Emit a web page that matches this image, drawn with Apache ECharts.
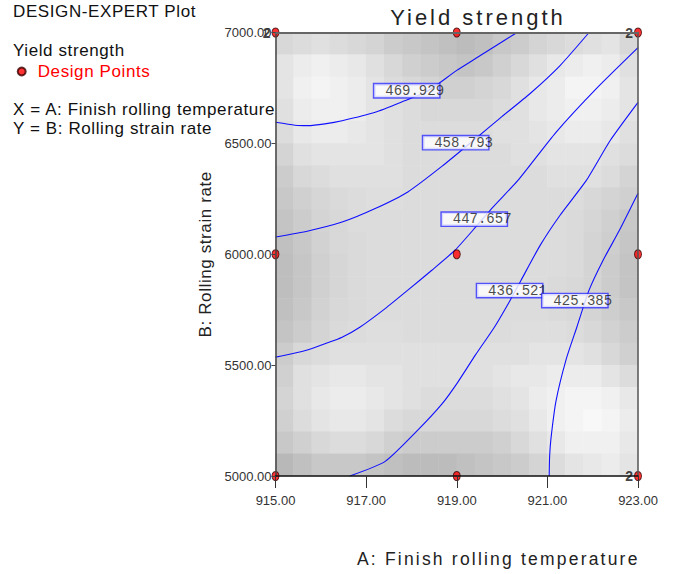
<!DOCTYPE html>
<html>
<head>
<meta charset="utf-8">
<script src="https://cdn.jsdelivr.net/npm/echarts@6/dist/echarts.min.js"></script>
<style>
  html, body { margin: 0; padding: 0; background: #ffffff; }
  #chart { width: 676px; height: 574px; }
  /* spread lettering for the plot title and the axis captions */
  #chart text[style*="22px"] { letter-spacing: 3px; }
  #chart text[style*="17px"] { letter-spacing: 0.6px; }
  #chart text[style*="17.5px"] { letter-spacing: 2.2px; }
</style>
</head>
<body>
<div id="chart"></div>
<script>
// Factor ranges (A: finish rolling temperature, B: rolling strain rate)
const aRange = [915, 923];
const aStep = 2;
const bRange = [5000, 7000];
const bStep = 500;

// Design points and replicate counts
const designA = [915, 919, 923, 915, 919, 923, 915, 919, 923];
const designB = [7000, 7000, 7000, 6000, 6000, 6000, 5000, 5000, 5000];
const designRuns = [2, 1, 2, 1, 1, 1, 1, 1, 2];

// Contour levels of yield strength
const contourLevels = [469.929, 458.793, 447.657, 436.521, 425.385];

// Contour traces, [A, B]
const contour469 = [[915.00, 6595], [915.43, 6582], [915.72, 6580], [916.09, 6588], [916.47, 6602], [917.20, 6640], [917.92, 6698], [918.30, 6730], [918.59, 6768], [919.00, 6829], [919.45, 6887], [919.89, 6944], [920.33, 7000]];
const contour458 = [[915.00, 6078], [915.72, 6105], [916.47, 6145], [917.20, 6206], [917.92, 6281], [918.67, 6396], [919.42, 6522], [919.95, 6613], [920.62, 6725], [921.28, 6851], [921.92, 7000]];
const contour447 = [[915.00, 5536], [915.36, 5551], [915.72, 5569], [916.09, 5596], [916.47, 5626], [916.86, 5671], [917.42, 5755], [917.92, 5838], [918.45, 5928], [918.96, 6018], [919.42, 6123], [919.80, 6213], [920.35, 6333], [921.19, 6550], [922.07, 6745], [923.00, 6932]];
const contour436 = [[916.64, 5000], [917.42, 5066], [918.14, 5207], [918.67, 5324], [919.01, 5419], [919.41, 5545], [919.83, 5671], [920.18, 5793], [920.42, 5883], [920.84, 6040], [921.28, 6176], [921.86, 6333], [922.39, 6514], [923.00, 6685]];
const contour425 = [[921.04, 5000], [921.05, 5090], [921.08, 5171], [921.19, 5338], [921.41, 5523], [921.65, 5671], [921.92, 5838], [922.23, 5973], [922.59, 6108], [923.00, 6275]];

// Where each contour value is tagged (left end of its tag), A and B
const tagA = [917.18, 918.26, 918.67, 919.45, 920.89];
const tagB = [6737, 6503, 6158, 5836, 5791];

// Gray shading of the design space, 20 x 20 cells, top row first
const shadeRows = [
  [216,220,224,220,216,212,204,200,196,192, 188,192,200,204,212,216,220,224,228,216],
  [228,236,240,236,232,224,216,208,204,200, 196,200,208,216,224,232,236,240,236,224],
  [228,240,244,240,236,228,220,216,212,208, 208,212,216,224,232,236,244,244,240,228],
  [224,236,240,240,236,228,224,220,216,216, 216,216,220,224,232,236,240,240,236,228],
  [220,232,236,236,232,228,224,220,220,220, 220,220,224,224,228,232,236,236,232,224],
  [212,224,228,228,228,228,224,220,220,220, 220,220,220,224,224,228,228,228,224,220],
  [204,216,220,224,224,224,224,220,220,220, 220,220,220,220,220,224,224,224,220,212],
  [200,208,214,218,220,222,222,220,220,220, 220,220,220,220,220,220,220,216,212,208],
  [196,204,212,216,220,220,220,220,220,220, 220,220,220,220,220,220,218,214,208,200],
  [192,200,210,216,218,220,220,220,220,220, 220,220,220,220,220,220,218,212,206,198],
  [190,198,208,214,218,220,220,220,220,220, 220,220,220,220,220,220,218,212,204,196],
  [190,198,208,214,218,220,220,220,220,220, 220,220,220,220,220,218,216,212,204,196],
  [192,200,210,216,218,220,220,220,220,220, 220,220,220,220,220,218,216,212,206,200],
  [196,204,212,218,220,222,222,220,220,220, 220,220,220,222,222,222,220,216,210,204],
  [204,216,220,224,224,224,224,224,224,224, 224,224,224,224,228,228,228,224,216,208],
  [208,224,228,232,232,228,228,224,224,224, 224,224,228,232,232,236,236,236,228,220],
  [212,224,232,236,236,232,228,224,220,220, 220,220,224,228,236,240,244,244,240,232],
  [208,220,228,232,232,228,220,216,216,216, 216,216,220,224,232,240,244,248,244,236],
  [200,208,216,220,220,216,208,204,204,204, 204,204,208,216,224,232,240,240,240,232],
  [184,192,200,200,200,196,192,188,188,188, 192,196,200,204,212,220,228,232,236,228]
];

const SANS = 'Liberation Sans';
const plotBox = { left: 275.5, top: 32.5, width: 362.5, height: 443.5 };

const cellIdx = shadeRows[0].map((_, i) => i);
const shadeData = [];
shadeRows.forEach((row, r) => row.forEach((v, c) => shadeData.push([c, r, v])));

const contourSets = [contour469, contour458, contour447, contour436, contour425];
const contourSeries = contourSets.map((pts, i) => ({
  type: 'line',
  name: contourLevels[i].toFixed(3),
  xAxisIndex: 0, yAxisIndex: 0,
  data: pts,
  smooth: 0.2,
  symbol: 'none',
  silent: true,
  z: 3,
  lineStyle: { color: '#1010ff', width: 1.1 }
}));

const tagData = contourLevels.map((lv, i) => ({ value: [tagA[i], tagB[i]], name: lv.toFixed(3) }));
const designData = designA.map((a, i) => [a, designB[i], designRuns[i]]);

const chart = echarts.init(document.getElementById('chart'), null, { renderer: 'svg' });
chart.setOption({
  animation: false,
  backgroundColor: '#ffffff',
  title: [
    { text: 'DESIGN-EXPERT Plot', left: 13, top: 3, padding: 0,
      textStyle: { fontFamily: SANS, fontSize: 17, fontWeight: 'normal', color: '#111' } },
    { text: 'Yield strength', left: 13, top: 42, padding: 0,
      textStyle: { fontFamily: SANS, fontSize: 17, fontWeight: 'normal', color: '#111' } },
    { text: 'X = A: Finish rolling temperature', left: 13, top: 101, padding: 0,
      textStyle: { fontFamily: SANS, fontSize: 17, fontWeight: 'normal', color: '#111' } },
    { text: 'Y = B: Rolling strain rate', left: 13, top: 120, padding: 0,
      textStyle: { fontFamily: SANS, fontSize: 17, fontWeight: 'normal', color: '#111' } },
    { text: 'Yield strength', left: 478, top: 6, padding: 0, textAlign: 'center',
      textStyle: { fontFamily: SANS, fontSize: 22, fontWeight: 'normal', color: '#222' } }
  ],
  legend: {
    data: ['Design Points'],
    left: 16.7, top: 63,
    icon: 'circle',
    itemWidth: 22, itemHeight: 8,
    padding: 0,
    selectedMode: false,
    textStyle: { fontFamily: SANS, fontSize: 17, color: '#ff0000', padding: [0, 0, 0, 0] }
  },
  visualMap: {
    show: false,
    seriesIndex: 0,
    min: 180, max: 250,
    inRange: { color: ['#b4b4b4', '#fafafa'] }
  },
  grid: [
    Object.assign({ show: false }, plotBox),
    Object.assign({ show: false }, plotBox)
  ],
  xAxis: [
    {
      type: 'value', gridIndex: 0, min: aRange[0], max: aRange[1], interval: aStep, z: 10,
      axisLine: { show: true, onZero: false, lineStyle: { color: '#111', width: 1.5 } },
      axisTick: { show: true, length: 12, lineStyle: { color: '#333', width: 1 } },
      axisLabel: { formatter: v => v.toFixed(2), fontFamily: SANS, fontSize: 13, color: '#333', margin: 18 },
      splitLine: { show: false },
      name: 'A: Finish rolling temperature', nameLocation: 'middle', nameGap: 74,
      nameTextStyle: { fontFamily: SANS, fontSize: 17.5, color: '#222', padding: [0, 0, 0, 83] }
    },
    {
      type: 'category', gridIndex: 1, data: cellIdx, show: false
    },
    {
      type: 'value', gridIndex: 0, position: 'top', min: aRange[0], max: aRange[1], z: 10,
      axisLine: { show: true, onZero: false, lineStyle: { color: '#666', width: 2 } },
      axisTick: { show: false }, axisLabel: { show: false }, splitLine: { show: false }
    }
  ],
  yAxis: [
    {
      type: 'value', gridIndex: 0, min: bRange[0], max: bRange[1], interval: bStep, z: 10,
      axisLine: { show: true, onZero: false, lineStyle: { color: '#444', width: 1.5 } },
      axisTick: { show: true, length: 4, lineStyle: { color: '#444', width: 1 } },
      axisLabel: { formatter: v => v.toFixed(2), fontFamily: SANS, fontSize: 13, color: '#333', margin: 4 },
      splitLine: { show: false },
      name: 'B: Rolling strain rate', nameLocation: 'middle', nameGap: 60,
      nameTextStyle: { fontFamily: SANS, fontSize: 17, color: '#222' }
    },
    {
      type: 'category', gridIndex: 1, data: cellIdx, inverse: true, show: false
    },
    {
      type: 'value', gridIndex: 0, position: 'right', min: bRange[0], max: bRange[1], z: 10,
      axisLine: { show: true, onZero: false, lineStyle: { color: '#555', width: 1.5 } },
      axisTick: { show: false }, axisLabel: { show: false }, splitLine: { show: false }
    }
  ],
  series: [
    {
      type: 'heatmap',
      xAxisIndex: 1, yAxisIndex: 1,
      data: shadeData,
      silent: true,
      z: 1,
      itemStyle: { borderWidth: 0 }
    }
  ].concat(contourSeries, [
    {
      type: 'scatter',
      name: 'contour tags',
      xAxisIndex: 0, yAxisIndex: 0,
      data: tagData,
      symbol: 'rect', symbolSize: 0.1,
      itemStyle: { color: 'rgba(0,0,0,0)' },
      silent: true,
      z: 4,
      label: {
        show: true, position: [0, 0], formatter: '{b}',
        align: 'left', verticalAlign: 'middle',
        fontFamily: 'Liberation Mono', fontSize: 14, color: '#1a1a1a',
        backgroundColor: '#ffffff', borderColor: '#3030ff', borderWidth: 1.4,
        width: 54, height: 12, lineHeight: 12, padding: [1, 0, 0, 11], overflow: 'none'
      }
    },
    {
      type: 'scatter',
      name: 'Design Points',
      xAxisIndex: 0, yAxisIndex: 0,
      data: designData,
      symbol: 'circle', symbolSize: [7, 9],
      itemStyle: { color: '#ff0000', borderColor: '#3a0000', borderWidth: 1 },
      silent: true,
      z: 6,
      label: {
        show: true, position: 'left', distance: 1,
        formatter: p => (p.value[2] > 1 ? String(p.value[2]) : ''),
        fontFamily: SANS, fontSize: 14, fontWeight: 'bold', color: '#111'
      }
    }
  ])
});
</script>
</body>
</html>
